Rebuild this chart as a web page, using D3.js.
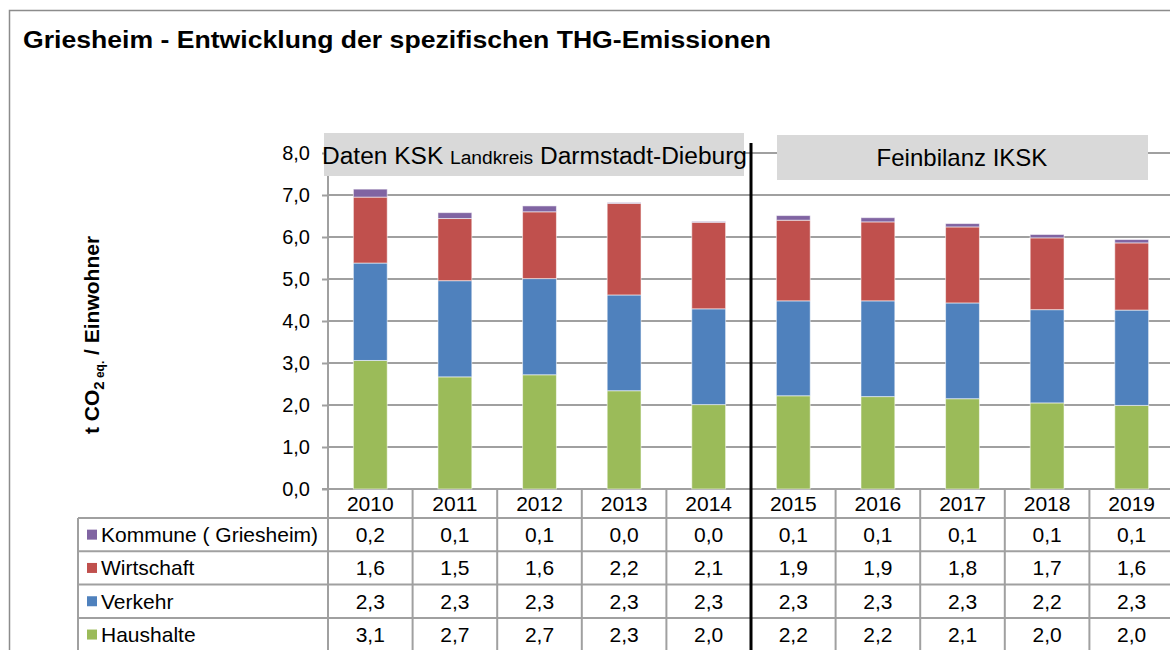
<!DOCTYPE html>
<html>
<head>
<meta charset="utf-8">
<script src="https://cdn.jsdelivr.net/npm/d3@7"></script>
<style>
  html, body { margin: 0; padding: 0; background: #fff; }
  svg { display: block; font-family: "Liberation Sans", Arial, sans-serif; }
</style>
</head>
<body>
<svg id="chart" width="1170" height="650"></svg>
<script>
// ---- data ----
const years = ["2010","2011","2012","2013","2014","2015","2016","2017","2018","2019"];
const seriesNames = ["Haushalte","Verkehr","Wirtschaft","Kommune ( Griesheim)"];
const haushalte  = [3.06, 2.67, 2.72, 2.34, 2.01, 2.22, 2.20, 2.15, 2.05, 1.99];
const verkehr    = [2.32, 2.29, 2.29, 2.28, 2.28, 2.26, 2.28, 2.28, 2.22, 2.27];
const wirtschaft = [1.57, 1.48, 1.59, 2.18, 2.06, 1.92, 1.88, 1.81, 1.71, 1.60];
const kommune    = [0.19, 0.14, 0.14, 0.02, 0.02, 0.11, 0.10, 0.08, 0.08, 0.08];
const yTicks = [0,1,2,3,4,5,6,7,8];
const titleText = "Griesheim - Entwicklung der spezifischen THG-Emissionen";
const periodLeft = ["Daten KSK ", "Landkreis", " Darmstadt-Dieburg"];
const periodRight = "Feinbilanz IKSK";

const colors = {"Haushalte":"#9BBB59","Verkehr":"#4F81BD","Wirtschaft":"#C0504D","Kommune ( Griesheim)":"#8064A2"};
const valuesBySeries = {"Haushalte":haushalte,"Verkehr":verkehr,"Wirtschaft":wirtschaft,"Kommune ( Griesheim)":kommune};

const rows = years.map((yr,i) => {
  const o = {year: yr};
  seriesNames.forEach(s => o[s] = valuesBySeries[s][i]);
  return o;
});

const de = d3.formatLocale({decimal: ",", thousands: ".", grouping: [3], currency: ["", " €"]});
const fmt = de.format(".1f");

const svg = d3.select("#chart");
const W = 1170, H = 650;
const gridColor = "#a0a0a0";

// outer frame
svg.append("rect").attr("x", 9.5).attr("y", 10.5).attr("width", W + 20).attr("height", H + 20)
  .attr("fill", "none").attr("stroke", "#8c8c8c").attr("stroke-width", 1.5);

// title
svg.append("text").attr("x", 23).attr("y", 48)
  .attr("font-size", 23).attr("font-weight", "bold").attr("fill", "#000")
  .attr("textLength", 748).attr("lengthAdjust", "spacingAndGlyphs")
  .text(titleText);

// scales
const plotLeft = 328, plotRight = 1174, y0 = 489, yTop = 153;
const x = d3.scaleBand().domain(years).range([plotLeft, plotRight]).paddingInner(0.6).paddingOuter(0.3);
const y = d3.scaleLinear().domain([0, 8]).range([y0, yTop]);

// gridlines
svg.append("g").selectAll("line").data(yTicks.filter(t => t > 0)).join("line")
  .attr("x1", plotLeft).attr("x2", W).attr("y1", d => y(d)).attr("y2", d => y(d))
  .attr("stroke", gridColor).attr("stroke-width", 2);

// y axis
const yAxis = svg.append("g").attr("transform", `translate(${plotLeft},0)`)
  .call(d3.axisLeft(y).tickValues(yTicks).tickFormat(fmt).tickSize(6).tickPadding(12));
yAxis.select(".domain").remove();
yAxis.selectAll(".tick line").attr("stroke", gridColor).attr("stroke-width", 2);
yAxis.selectAll(".tick text").attr("font-size", 20).attr("fill", "#000")
  .attr("font-family", "'Liberation Sans', Arial, sans-serif");
// axis lines
svg.append("line").attr("x1", plotLeft).attr("x2", plotLeft).attr("y1", y(8)).attr("y2", H)
  .attr("stroke", gridColor).attr("stroke-width", 2);
svg.append("line").attr("x1", plotLeft - 6).attr("x2", W).attr("y1", y0).attr("y2", y0)
  .attr("stroke", gridColor).attr("stroke-width", 2);

// stacked bars
const stack = d3.stack().keys(seriesNames)(rows);
svg.append("g").selectAll("g").data(stack).join("g")
  .attr("fill", d => colors[d.key])
  .selectAll("rect").data(d => d).join("rect")
  .attr("x", d => x(d.data.year))
  .attr("width", x.bandwidth())
  .attr("y", d => y(d[1]))
  .attr("height", d => y(d[0]) - y(d[1]))
  .attr("stroke", "#ffffff").attr("stroke-opacity", 0.55).attr("stroke-width", 1);

// y axis title
const yt = svg.append("text").attr("transform", "translate(99,335) rotate(-90)")
  .attr("text-anchor", "middle").attr("font-size", 21).attr("font-weight", "bold").attr("fill", "#000");
yt.append("tspan").text("t CO");
yt.append("tspan").attr("font-size", 15).attr("dy", 5).text("2");
yt.append("tspan").attr("font-size", 12).text(" eq.");
yt.append("tspan").attr("dy", -5).text(" / Einwohner");

// period boxes
svg.append("rect").attr("x", 324).attr("y", 133).attr("width", 420).attr("height", 43).attr("fill", "#d9d9d9");
svg.append("rect").attr("x", 777).attr("y", 135).attr("width", 371).attr("height", 45).attr("fill", "#d9d9d9");
const pl = svg.append("text").attr("x", 322).attr("y", 164).attr("font-size", 23).attr("fill", "#000")
  .attr("textLength", 425).attr("lengthAdjust", "spacingAndGlyphs");
pl.append("tspan").text(periodLeft[0]);
pl.append("tspan").attr("font-size", 18).text(periodLeft[1]);
pl.append("tspan").text(periodLeft[2]);
svg.append("text").attr("x", 962).attr("y", 166).attr("text-anchor", "middle")
  .attr("font-size", 24).attr("fill", "#000").text(periodRight);

// data table
const step = x.step();
const cellLeft = d => x(d) - (step - x.bandwidth()) / 2;
const tableLeft = 78, headerBottom = 518, rowH = 33.3;
const tableSeries = seriesNames.slice().reverse(); // Kommune, Wirtschaft, Verkehr, Haushalte
const tbl = svg.append("g");
tbl.selectAll("line.h").data(d3.range(tableSeries.length)).join("line")
  .attr("x1", tableLeft).attr("x2", W)
  .attr("y1", i => headerBottom + i * rowH).attr("y2", i => headerBottom + i * rowH)
  .attr("stroke", gridColor).attr("stroke-width", 2);
tbl.append("line").attr("x1", tableLeft).attr("x2", tableLeft).attr("y1", headerBottom).attr("y2", H)
  .attr("stroke", gridColor).attr("stroke-width", 2);
tbl.selectAll("line.v").data(years.slice(1)).join("line")
  .attr("x1", d => cellLeft(d)).attr("x2", d => cellLeft(d)).attr("y1", y0).attr("y2", H)
  .attr("stroke", gridColor).attr("stroke-width", 2);
tbl.selectAll("text.year").data(years).join("text")
  .attr("x", d => x(d) + x.bandwidth() / 2).attr("y", 511)
  .attr("text-anchor", "middle").attr("font-size", 21).attr("fill", "#000").text(d => d);
tableSeries.forEach((s, r) => {
  const cy = headerBottom + r * rowH + rowH / 2;
  tbl.append("rect").attr("x", 87).attr("y", cy - 5).attr("width", 10).attr("height", 10).attr("fill", colors[s]);
  tbl.append("text").attr("x", 101).attr("y", cy + 7.5).attr("font-size", 21).attr("fill", "#000").text(s);
  tbl.selectAll(null).data(valuesBySeries[s]).join("text")
    .attr("x", (d, i) => x(years[i]) + x.bandwidth() / 2).attr("y", cy + 7.5)
    .attr("text-anchor", "middle").attr("font-size", 21).attr("fill", "#000")
    .text(d => fmt(d));
});

// separator line between 2014 and 2015
svg.append("line").attr("x1", cellLeft("2015")).attr("x2", cellLeft("2015")).attr("y1", 143).attr("y2", H)
  .attr("stroke", "#000").attr("stroke-width", 3);
</script>
</body>
</html>
